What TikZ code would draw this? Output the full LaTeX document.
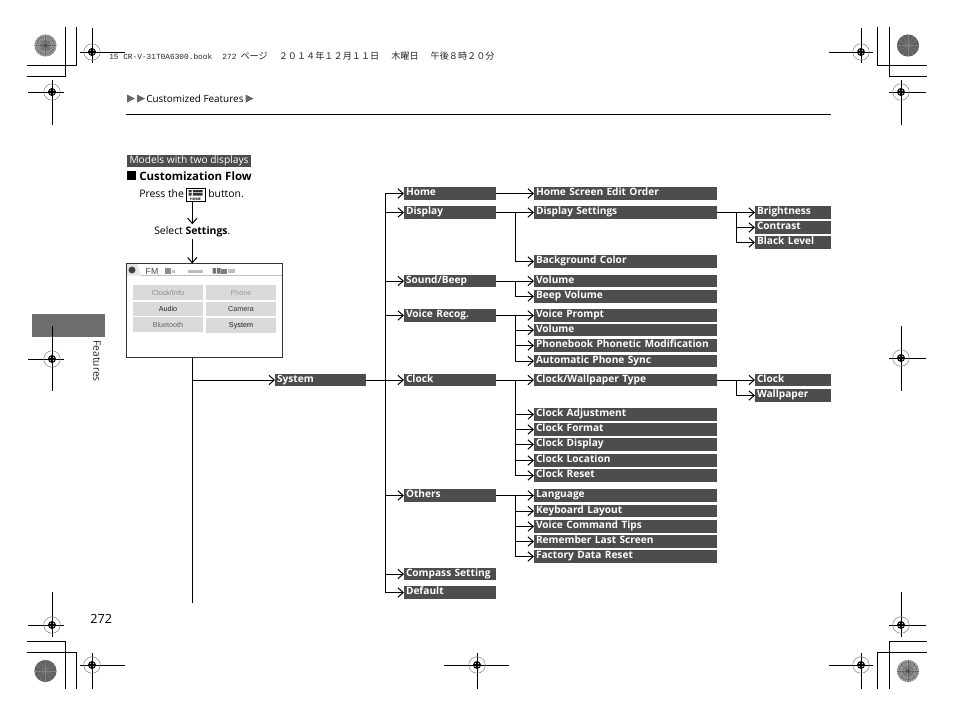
\documentclass[tikz,border=0pt]{standalone}
\usepackage{fontspec}
\usetikzlibrary{arrows.meta,calc}
\setmainfont{Open Sans}
\newfontfamily\jpfont{Noto Sans CJK JP}
\newfontfamily\monofnt{Liberation Mono}
\newfontfamily\menufont{Open Sans}
\newfontfamily\uifont{Liberation Sans}
\definecolor{boxgray}{HTML}{4D4D4D}
\definecolor{tabgray}{HTML}{6D6D6D}
\definecolor{btngray}{HTML}{DADADA}
\definecolor{disclight}{HTML}{A0A0A0}
\definecolor{discline}{HTML}{666666}
\tikzset{
  wire/.style={line width=0.75pt,black},
  flow/.style={wire,-{Straight Barb[length=4pt,width=7pt]}},
  menuitem/.style={fill=boxgray,text=white,anchor=north west,inner ysep=0pt,inner xsep=1.5pt,outer sep=0pt,align=left,font=\menufont\bfseries\fontsize{7.6}{8}\selectfont},
  bodytext/.style={inner sep=0pt,anchor=base west,font=\fontsize{7.8}{9}\selectfont,text=black},
  uibtn/.style={fill=btngray,anchor=north west,inner sep=0pt,outer sep=0pt,font=\uifont\fontsize{5.4}{6}\selectfont},
  cropline/.style={line width=0.75pt,black}
}
\newcommand\menuentry[6]{%
  \pgfmathsetmacro\bw{(#3-#2)*0.75}%
  \pgfmathsetmacro\bh{(#5-#4)*0.75}%
  \pgfmathsetmacro\bd{\bh-6.1}%
  \pgfmathsetmacro\bt{\bw-3}%
  \node[menuitem,text width=\bt pt,text height=6.1pt,text depth=\bd pt] (#1) at (#2,#4) {\mbox{#6}};%
}
\newcommand\regmark[6]{% cx cy x1 x2 y1 y2
  \draw[cropline] (#3,#2) -- (#4,#2) (#1,#5) -- (#1,#6);
  \draw[gray,line width=0.4pt] (#1,#2) circle[radius=6.2pt];
  \fill[black] (#1,#2) circle[radius=3pt];
  \foreach \sx/\sy in {-1.7/-1.7,1.7/-1.7,-1.7/1.7,1.7/1.7}{\fill[white] (#1+\sx,#2+\sy) circle[radius=0.45pt];}
}
\newcommand\fancydisc[2]{%
  \fill[disclight] (#1,#2) circle[radius=8.3pt];
  \foreach \a in {0,15,...,345}{\draw[discline,line width=0.3pt] (#1,#2) -- ++(\a:8.2pt);}
  \draw[discline,line width=0.35pt] (#1,#2) circle[radius=6.6pt] circle[radius=3.8pt];
  \fill[black!70] (#1,#2) circle[radius=1.4pt];
}
\newcommand\darkdisc[2]{%
  \fill[black!62] (#1,#2) circle[radius=8.3pt];
  \foreach \a in {0,30,...,330}{\draw[black!50,line width=0.3pt] (#1,#2) -- ++(\a:8.2pt);}
}
\begin{document}
\begin{tikzpicture}[x=0.75pt,y=-0.75pt]
\useasboundingbox (0,0) rectangle (954,718);
\fill[white] (0,0) rectangle (954,718);

% side tab
\fill[tabgray] (32,314) rectangle (105,337);
\node[rotate=-90,inner sep=0pt,font=\fontsize{7.7}{8}\selectfont,text=black!85] (sidelabel) at (97,361) {Features};

% crop corners
\draw[cropline] (27,65) -- (76,65) -- (76,27);
\draw[cropline] (27,76) -- (65,76) -- (65,27);
\draw[cropline] (927,65) -- (877,65) -- (877,27);
\draw[cropline] (927,76) -- (889,76) -- (889,27);
\draw[cropline] (27,641) -- (65,641) -- (65,689);
\draw[cropline] (27,652) -- (76,652) -- (76,689);
\draw[cropline] (927,641) -- (889,641) -- (889,689);
\draw[cropline] (927,652) -- (877,652) -- (877,689);
\fancydisc{45.5}{45.5}
\darkdisc{908}{45.5}
\darkdisc{45.5}{671}
\fancydisc{908}{671}

% registration marks
\regmark{92}{52}{80}{125}{28}{63}
\regmark{52}{92}{28}{64}{80}{125}
\regmark{861}{52}{829}{873}{28}{63}
\regmark{901}{92}{889}{926}{80}{125}
\regmark{52}{359}{28}{64}{326}{391}
\regmark{901}{358}{889}{926}{326}{391}
\regmark{52}{625}{28}{64}{592}{637}
\regmark{92}{665}{80}{125}{653}{689}
\regmark{477}{665}{444}{509}{653}{689}
\regmark{901}{625}{889}{926}{592}{637}
\regmark{861}{665}{829}{873}{653}{689}

% print slug
\node[inner sep=0pt,anchor=base west,text=black!85,font=\monofnt\fontsize{5.85}{7}\selectfont] (slug) at (109,59.5)
 {15 CR-V-31T0A6300.book\hspace{7.7pt}272\hspace{3pt}{\jpfont\fontsize{6.85}{7}\selectfont ページ\hspace{8.3pt}２０１４年１２月１１日\hspace{9pt}木曜日\hspace{9pt}午後８時２０分}};

% running head
\fill[black!60] (127,94.5) -- (135,98.5) -- (127,102.5) -- cycle;
\fill[black!60] (137,94.5) -- (145,98.5) -- (137,102.5) -- cycle;
\node[bodytext,font=\fontsize{7.45}{8}\selectfont] (crumb) at (146,102) {Customized Features};
\fill[black!60] (245.5,94.5) -- (253.5,98.5) -- (245.5,102.5) -- cycle;
\draw[wire] (126,114) -- (831,114);

% heading
\node[fill=boxgray,text=white,anchor=north west,inner sep=0pt,minimum width=93.4pt,minimum height=9pt,font=\fontsize{7.65}{8}\selectfont] (models) at (126.5,155) {Models with two displays};
\fill[black] (126.5,171) rectangle (136,180);
\node[bodytext,font=\bfseries\fontsize{8.6}{9}\selectfont] (flowhead) at (139,180) {Customization Flow};

% start of the flow
\node[bodytext] (press) at (139,197) {Press the};
\node[draw=black,line width=0.6pt,anchor=north west,inner sep=0pt,minimum width=14pt,minimum height=10.4pt] (homeicon) at (186,187.5) {};
\fill[black!80] (188.5,190) rectangle (191.5,192.3) (188.5,193.2) rectangle (191.5,195.5) (192.8,190) rectangle (202.5,192.3) (192.8,193.2) rectangle (202.5,195.5);
\node[inner sep=0pt,font=\bfseries\fontsize{2.6}{3}\selectfont] (homeword) at (195.5,199) {HOME};
\node[bodytext] (buttonword) at (208,197) {button.};
\node[bodytext,text height=6pt,text depth=1.5pt,inner ysep=1.5pt] (selectnode) at (154,234.5) {Select \textbf{Settings}.};
\coordinate (stem) at (192.3,0);
\draw[flow] (stem |- homeicon.south) -- (stem |- selectnode.north);

% screen
\node[draw=black!80,line width=0.75pt,fill=white,anchor=north west,inner sep=0pt,outer sep=0pt,minimum width=117pt,minimum height=70.5pt] (screen) at (126.5,263.5) {};
\draw[flow] (stem |- selectnode.south) -- (stem |- screen.north);
\fill[black!10] (127,264) -- (137,264) -- (141,275.5) -- (127,275.5) -- cycle;
\fill[black!75] (132,270) circle[radius=2.6pt];
\draw[black!25,line width=0.4pt] (141,275.5) -- (282,275.5);
\node[inner sep=0pt,font=\uifont\fontsize{6.6}{7}\selectfont,text=black!70] (fmlabel) at (152,271) {FM};
\fill[black!45] (165,268) rectangle (171,273.5);
\fill[black!25] (171.5,270) rectangle (175,272.5);
\fill[black!25] (188,270) rectangle (203,272.5);
\fill[black!55] (212.5,268) rectangle (216,273.5) (217,268) rectangle (220.5,273.5);
\fill[black!50] (221,268.5) rectangle (227,273.5);
\fill[black!25] (227.5,269) rectangle (235,273);
\node[uibtn,minimum width=52.5pt,minimum height=11.2pt,text=black!45] (b1) at (133,285) {Clock/Info};
\node[uibtn,minimum width=52.5pt,minimum height=10.5pt,text=black!85] (b2) at (133,302) {Audio};
\node[uibtn,minimum width=52.5pt,minimum height=11.2pt,text=black!60] (b3) at (133,317) {Bluetooth};
\node[uibtn,minimum width=52.5pt,minimum height=11.2pt,text=black!40] (b4) at (206,285) {Phone};
\node[uibtn,minimum width=52.5pt,minimum height=10.5pt,text=black!80] (b5) at (206,302) {Camera};
\node[uibtn,minimum width=52.5pt,minimum height=11.2pt,text=black!90] (b6) at (206,318) {System};

% menu boxes, level 1
\menuentry{system}{275}{366}{374}{386}{System}
\menuentry{home}{404}{496}{187}{200}{Home}
\menuentry{display}{404}{496}{206}{219}{Display}
\menuentry{sound}{404}{496}{275}{287}{Sound/Beep}
\menuentry{voice}{404}{496}{309}{322}{Voice Recog.}
\menuentry{clock}{404}{496}{374}{386}{Clock}
\menuentry{others}{404}{496}{489}{502}{Others}
\menuentry{compass}{404}{496}{568}{580}{Compass Setting}
\menuentry{default}{404}{496}{586}{599}{Default}

% level 2
\menuentry{homeorder}{534}{717}{187}{200}{Home Screen Edit Order}
\menuentry{dispset}{534}{717}{206}{219}{Display Settings}
\menuentry{bgcolor}{534}{717}{255}{268}{Background Color}
\menuentry{vol}{534}{717}{275}{287}{Volume}
\menuentry{beep}{534}{717}{290}{303}{Beep Volume}
\menuentry{vprompt}{534}{717}{309}{322}{Voice Prompt}
\menuentry{vvol}{534}{717}{324}{336}{Volume}
\menuentry{phonebook}{534}{717}{339}{352}{Phonebook Phonetic Modification}
\menuentry{autosync}{534}{717}{355}{367}{Automatic Phone Sync}
\menuentry{clocktype}{534}{717}{374}{386}{Clock/Wallpaper Type}
\menuentry{cadjust}{534}{717}{408}{421}{Clock Adjustment}
\menuentry{cformat}{534}{717}{423}{436}{Clock Format}
\menuentry{cdisplay}{534}{717}{438}{451}{Clock Display}
\menuentry{clocation}{534}{717}{454}{467}{Clock Location}
\menuentry{creset}{534}{717}{469}{482}{Clock Reset}
\menuentry{language}{534}{717}{489}{502}{Language}
\menuentry{keyboard}{534}{717}{505}{517}{Keyboard Layout}
\menuentry{vctips}{534}{717}{520}{533}{Voice Command Tips}
\menuentry{remember}{534}{717}{535}{548}{Remember Last Screen}
\menuentry{factory}{534}{717}{550}{563}{Factory Data Reset}

% level 3
\menuentry{bright}{755}{831}{206}{219}{Brightness}
\menuentry{contrast}{755}{831}{221}{234}{Contrast}
\menuentry{blacklevel}{755}{831}{236}{249}{Black Level}
\menuentry{clk}{755}{831}{374}{386}{Clock}
\menuentry{wall}{755}{831}{389}{402}{Wallpaper}

% connectors
\coordinate (lead) at (stem |- system.west);
\coordinate (leadend) at (192.3,603);
\draw[wire] (stem |- screen.south) -- (leadend);
\draw[flow] (lead) -- (system.west);

\coordinate (trunk) at (385.3,0);
\draw[wire] (system.east) -- (trunk |- system.west);
\draw[wire] (trunk |- home.west) -- (trunk |- default.west);
\foreach \n in {home,display,sound,voice,clock,others,compass,default}
  \draw[flow] (trunk |- \n.west) -- (\n.west);

\coordinate (fork) at (515.7,0);
\draw[flow] (home.east) -- (homeorder.west);
\draw[flow] (display.east) -- (dispset.west);
\draw[flow] (fork |- display.east) |- (bgcolor.west);
\draw[flow] (sound.east) -- (vol.west);
\draw[flow] (fork |- sound.east) |- (beep.west);
\draw[flow] (voice.east) -- (vprompt.west);
\draw[flow] (fork |- voice.east) |- (autosync.west);
\foreach \n in {vvol,phonebook} \draw[flow] (fork |- \n.west) -- (\n.west);
\draw[flow] (clock.east) -- (clocktype.west);
\draw[flow] (fork |- clock.east) |- (creset.west);
\foreach \n in {cadjust,cformat,cdisplay,clocation} \draw[flow] (fork |- \n.west) -- (\n.west);
\draw[flow] (others.east) -- (language.west);
\draw[flow] (fork |- others.east) |- (factory.west);
\foreach \n in {keyboard,vctips,remember} \draw[flow] (fork |- \n.west) -- (\n.west);

\coordinate (fork3) at (736,0);
\draw[flow] (dispset.east) -- (bright.west);
\draw[flow] (fork3 |- dispset.east) |- (blacklevel.west);
\draw[flow] (fork3 |- contrast.west) -- (contrast.west);
\draw[flow] (clocktype.east) -- (clk.west);
\draw[flow] (fork3 |- clocktype.east) |- (wall.west);

% page number
\node[bodytext,font=\fontsize{9.5}{12}\selectfont] (pagenum) at (90,623) {272};
\end{tikzpicture}
\end{document}
